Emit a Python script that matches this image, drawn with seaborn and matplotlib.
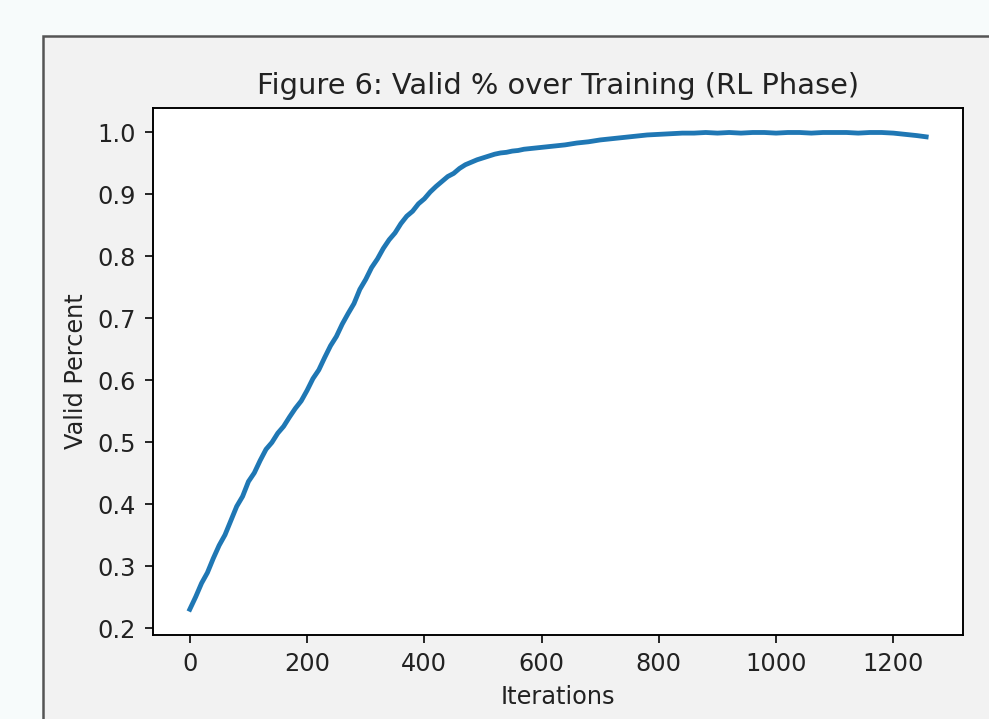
import matplotlib
matplotlib.use("Agg")
import matplotlib.pyplot as plt
from matplotlib.patches import Rectangle
import seaborn as sns

# values
iterations = [0, 10, 20, 30, 40, 50, 60, 70, 80, 90,
              100, 110, 120, 130, 140, 150, 160, 170, 180, 190,
              200, 210, 220, 230, 240, 250, 260, 270, 280, 290,
              300, 310, 320, 330, 340, 350, 360, 370, 380, 390,
              400, 410, 420, 430, 440, 450, 460, 470, 480, 490,
              500, 510, 520, 530, 540, 550, 560, 570, 580, 590,
              600, 620, 640, 660, 680, 700, 720, 740, 760, 780,
              800, 820, 840, 860, 880, 900, 920, 940, 960, 980,
              1000, 1020, 1040, 1060, 1080, 1100, 1120, 1140, 1160, 1180,
              1200, 1220, 1240, 1256]
valid = [0.231, 0.251, 0.273, 0.290, 0.313, 0.334, 0.351, 0.374, 0.397, 0.413,
         0.437, 0.451, 0.471, 0.489, 0.500, 0.515, 0.526, 0.541, 0.555, 0.567,
         0.584, 0.603, 0.617, 0.637, 0.656, 0.671, 0.691, 0.708, 0.724, 0.747,
         0.763, 0.782, 0.796, 0.813, 0.827, 0.838, 0.853, 0.865, 0.873, 0.885,
         0.893, 0.904, 0.913, 0.921, 0.929, 0.934, 0.942, 0.948, 0.952, 0.956,
         0.959, 0.962, 0.965, 0.967, 0.968, 0.970, 0.971, 0.973, 0.974, 0.975,
         0.976, 0.978, 0.980, 0.983, 0.985, 0.988, 0.990, 0.992, 0.994, 0.996,
         0.997, 0.998, 0.999, 0.999, 1.000, 0.999, 1.000, 0.999, 1.000, 1.000,
         0.999, 1.000, 1.000, 0.999, 1.000, 1.000, 1.000, 0.999, 1.000, 1.000,
         0.999, 0.997, 0.995, 0.993]
xticks = [0, 200, 400, 600, 800, 1000, 1200]
yticks = [0.2, 0.3, 0.4, 0.5, 0.6, 0.7, 0.8, 0.9, 1.0]

W, H = 989, 719
dpi = 173
fig = plt.figure(figsize=(W / dpi, H / dpi), dpi=dpi, facecolor="#f7fbfb")

# grey panel of the screenshot, with its dark border on left/top
panel = Rectangle((43 / W, -0.1), 1.2, (H - 36) / H + 0.1, transform=fig.transFigure,
                  facecolor="#f2f2f2", edgecolor="#555555", linewidth=2.5 * 72 / dpi, zorder=0)
fig.add_artist(panel)

ax = fig.add_axes([153 / W, (H - 635) / H, (963 - 153) / W, (635 - 108) / H])
ax.set_facecolor("white")

sns.lineplot(x=iterations, y=valid, ax=ax, color="#1f77b4", linewidth=2.0)

ax.set_xlim(-62.8, 1318.8)
ax.set_ylim(0.1895, 1.0395)
ax.set_xticks(xticks)
ax.set_yticks(yticks)
ax.set_yticklabels([f"{v:.1f}" for v in yticks])
ax.tick_params(colors="#222222", labelcolor="#222222")
ax.set_title("Figure 6: Valid % over Training (RL Phase)", color="#222222")
ax.set_xlabel("Iterations", color="#222222")
ax.set_ylabel("Valid Percent", color="#222222")

fig.savefig("out.png", dpi=dpi, facecolor=fig.get_facecolor())
